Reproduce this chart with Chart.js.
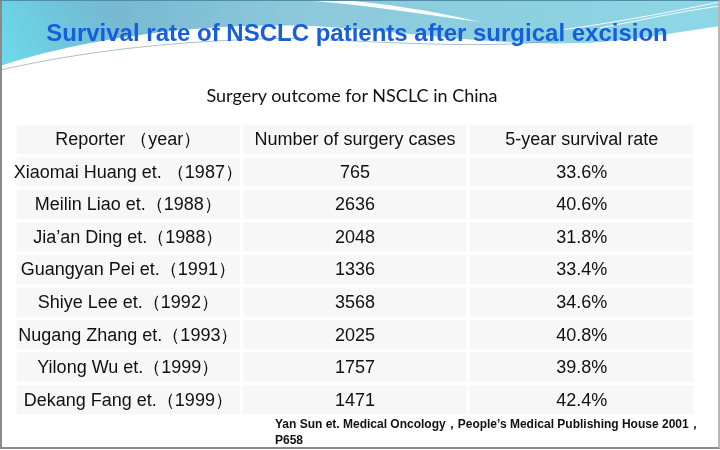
<!DOCTYPE html>
<html>
<head>
<meta charset="utf-8">
<script src="https://cdn.jsdelivr.net/npm/chart.js@4.4.1/dist/chart.umd.min.js"></script>
<style>
    html, body { margin: 0; padding: 0; background: #fff; }
    #wrap { position: relative; width: 720px; height: 450px; overflow: hidden; }
    #tableChart { position: absolute; left: 0; top: 0; }
    .frame { position: absolute; left: 0; top: 0; width: 716px; height: 446px; border: 2px solid #8a8a8a; border-top: 1px solid #4f8ea6; border-right-color: #b8b8b8; pointer-events: none; }
    #title { position: absolute; left: 0; width: 714px; top: 19px; text-align: center;
             font: bold 24px "Liberation Sans", Arial, sans-serif; color: #165fdc; }
    #subtitle { position: absolute; left: 0; width: 704px; top: 84px; text-align: center;
                font: 18px Lato, "Noto Sans", sans-serif; color: #111; }
    #source { position: absolute; left: 275px; top: 416px; width: 440px;
              font: bold 12px "Liberation Sans Narrow", "Arial Narrow", sans-serif; color: #111; line-height: 16px; }
</style>
</head>
<body>
<div id="wrap">
    <canvas id="tableChart" width="720" height="450"></canvas>
    <div id="title">Survival rate of NSCLC patients after surgical excision</div>
    <div id="subtitle">Surgery outcome for NSCLC in China</div>
    <div id="source">Yan Sun et. Medical Oncology，People’s Medical Publishing House 2001，<br>P658</div>
    <div class="frame"></div>
</div>
<script>
// ===== 表格数据 =====
const headers = ['Reporter （year）', 'Number of surgery cases', '5-year survival rate'];
const reporters = [
    'Xiaomai Huang et. （1987）',
    'Meilin Liao et.（1988）',
    'Jia’an Ding et.（1988）',
    'Guangyan Pei et.（1991）',
    'Shiye Lee et.（1992）',
    'Nugang Zhang et.（1993）',
    'Yilong Wu et.（1999）',
    'Dekang Fang et.（1999）'
];
const surgeryCases = [765, 2636, 2048, 1336, 3568, 2025, 1757, 1471];
const survivalRates = ['33.6%', '40.6%', '31.8%', '33.4%', '34.6%', '40.8%', '39.8%', '42.4%'];

// 行：表头 + 每个报告者
const rowLabels = ['header'].concat(reporters);
const columnTexts = [
    [headers[0]].concat(reporters),
    [headers[1]].concat(surgeryCases.map(String)),
    [headers[2]].concat(survivalRates)
];

// 每一列是一组浮动条形（单元格）
const datasets = columnTexts.map((col, c) => ({
    label: headers[c],
    data: rowLabels.map(() => [c, c + 1]),
    backgroundColor: '#f7f7f7',
    borderColor: '#ffffff',
    borderWidth: 2,
    borderSkipped: false,
    grouped: false,
    barPercentage: 1,
    categoryPercentage: 1
}));

// 顶部装饰波浪
const backgroundPlugin = {
    id: 'slideBackground',
    beforeDraw(chart) {
        const ctx = chart.ctx;
        ctx.save();
        const g = ctx.createLinearGradient(0, 0, 720, 40);
        g.addColorStop(0, '#6aaecb');
        g.addColorStop(0.4, '#8cc8da');
        g.addColorStop(1, '#8ed7e6');
        ctx.fillStyle = g;
        ctx.fillRect(0, 0, 720, 80);
        // 左下亮青色
        const g2 = ctx.createLinearGradient(0, 70, 120, 20);
        g2.addColorStop(0, 'rgba(110,225,240,0.9)');
        g2.addColorStop(1, 'rgba(110,225,240,0)');
        ctx.fillStyle = g2;
        ctx.fillRect(0, 0, 200, 80);
        // 顶部白色飘带
        ctx.fillStyle = 'rgba(255,255,255,0.95)';
        ctx.beginPath();
        ctx.moveTo(300, 0);
        ctx.bezierCurveTo(360, 4, 420, 14, 480, 22);
        ctx.bezierCurveTo(430, 10, 380, 3, 340, 0);
        ctx.closePath();
        ctx.fill();
        // 白色主体
        ctx.fillStyle = '#ffffff';
        ctx.beginPath();
        ctx.moveTo(0, 66);
        ctx.bezierCurveTo(80, 40, 200, 20, 330, 27);
        ctx.bezierCurveTo(430, 34, 510, 48, 600, 42);
        ctx.bezierCurveTo(650, 38, 690, 30, 720, 26);
        ctx.lineTo(720, 450);
        ctx.lineTo(0, 450);
        ctx.closePath();
        ctx.fill();
        // 细线
        ctx.strokeStyle = 'rgba(120,150,160,0.6)';
        ctx.lineWidth = 1;
        ctx.beginPath();
        ctx.moveTo(0, 70);
        ctx.bezierCurveTo(90, 50, 180, 40, 300, 38);
        ctx.stroke();
        ctx.beginPath();
        ctx.moveTo(330, 40);
        ctx.bezierCurveTo(420, 44, 500, 48, 560, 40);
        ctx.stroke();
        ctx.strokeStyle = 'rgba(255,255,255,0.9)';
        ctx.beginPath();
        ctx.moveTo(560, 30);
        ctx.bezierCurveTo(620, 22, 680, 10, 720, 2);
        ctx.stroke();
        ctx.beginPath();
        ctx.moveTo(600, 28);
        ctx.bezierCurveTo(650, 18, 690, 10, 720, 6);
        ctx.stroke();
        ctx.restore();
    }
};

// 单元格文字
const cellTextPlugin = {
    id: 'cellText',
    afterDatasetsDraw(chart) {
        const ctx = chart.ctx;
        const xs = chart.scales.x;
        const ys = chart.scales.y;
        ctx.save();
        ctx.fillStyle = '#111';
        ctx.font = '18px "Liberation Sans", Arial, sans-serif';
        ctx.textAlign = 'center';
        ctx.textBaseline = 'middle';
        columnTexts.forEach((col, c) => {
            col.forEach((txt, r) => {
                ctx.fillText(txt, xs.getPixelForValue(c + 0.5), ys.getPixelForValue(r) + 1);
            });
        });
        ctx.restore();
    }
};

const tableChart = new Chart(document.getElementById('tableChart').getContext('2d'), {
    type: 'bar',
    data: { labels: rowLabels, datasets: datasets },
    options: {
        indexAxis: 'y',
        responsive: false,
        animation: false,
        layout: { padding: { left: 15, right: 25, top: 123, bottom: 34 } },
        scales: {
            x: { type: 'linear', min: 0, max: 3, display: false },
            y: { display: false }
        },
        plugins: {
            legend: { display: false },
            tooltip: { enabled: false }
        }
    },
    plugins: [backgroundPlugin, cellTextPlugin]
});
</script>
</body>
</html>
